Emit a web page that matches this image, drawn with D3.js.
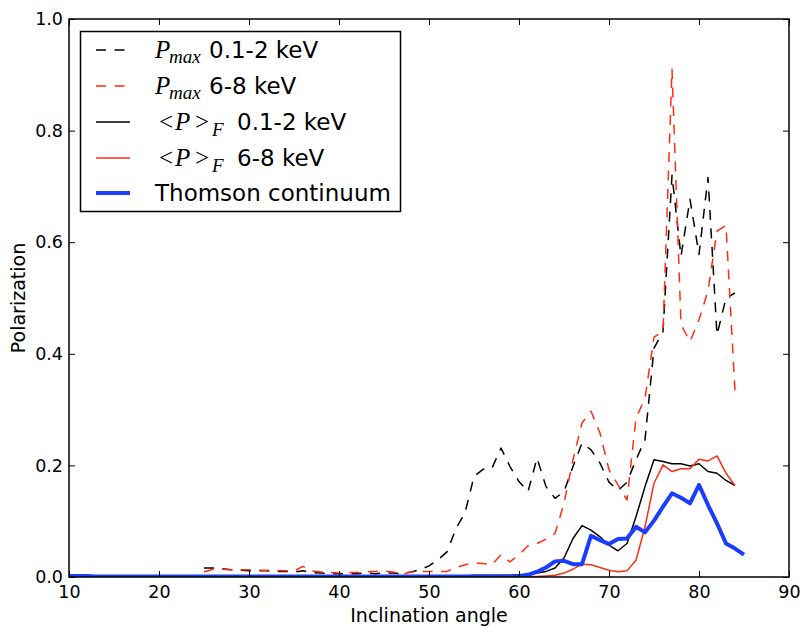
<!DOCTYPE html>
<html>
<head>
<meta charset="utf-8">
<script src="https://cdn.jsdelivr.net/npm/d3@7"></script>
<style>
  body { margin: 0; background: #fff; }
  svg { display: block; font-family: "DejaVu Sans", sans-serif; }
</style>
</head>
<body>
<svg width="805" height="627"></svg>
<script>
// inclination angles (degrees)
var anglesSolid = [10,11,12,13,14,15,16,17,18,19,20,21,22,23,24,25,26,27,28,29,30,31,32,33,34,
    35,36,37,38,39,40,41,42,43,44,45,46,47,48,49,50,51,52,53,54,55,56,57,58,59,60,61,62,63,64,
    65,66,67,68,69,70,71,72,73,74,75,76,77,78,79,80,81,82,83,84];
var anglesThomson = anglesSolid.concat([85]);
var anglesDashed = [25,26,27,28,29,30,31,32,33,34,35,36,37,38,39,40,41,42,43,44,45,46,47,48,49,
    50,51,52,53,54,55,56,57,58,59,60,61,62,63,64,65,66,67,68,69,70,71,72,73,74,75,76,77,78,79,
    80,81,82,83,84];

// P_max 0.1-2 keV (black dashed)
var pmaxSoft = [0.016,0.016,0.015,0.013,0.012,0.011,0.011,0.011,0.010,0.010,0.009,0.011,0.008,0.007,0.006,
    0.006,0.006,0.006,0.007,0.006,0.007,0.007,0.006,0.009,0.013,0.020,0.031,0.045,0.087,0.115,
    0.180,0.193,0.195,0.231,0.198,0.171,0.153,0.213,0.162,0.141,0.153,0.198,0.240,0.228,0.204,
    0.170,0.155,0.170,0.210,0.246,0.410,0.440,0.720,0.575,0.677,0.578,0.716,0.434,0.500,0.509];
// P_max 6-8 keV (red dashed)
var pmaxHard = [0.009,0.014,0.014,0.013,0.013,0.013,0.012,0.012,0.012,0.011,0.011,0.019,0.011,0.009,0.008,
    0.007,0.008,0.008,0.009,0.010,0.011,0.009,0.005,0.009,0.010,0.010,0.010,0.010,0.017,0.022,
    0.025,0.024,0.022,0.040,0.027,0.040,0.056,0.060,0.068,0.078,0.132,0.210,0.276,0.297,0.258,
    0.192,0.165,0.138,0.285,0.320,0.430,0.440,0.910,0.452,0.422,0.461,0.513,0.620,0.630,0.333];
// <P>_F 0.1-2 keV (black solid)
var pfSoft = [0.002,0.002,0.002,0.002,0.002,0.002,0.002,0.002,0.002,0.002,0.002,0.002,0.002,0.002,0.002,
    0.002,0.002,0.002,0.002,0.002,0.002,0.002,0.002,0.002,0.002,0.002,0.002,0.002,0.002,0.002,
    0.002,0.002,0.002,0.002,0.002,0.002,0.002,0.002,0.002,0.002,0.002,0.002,0.002,0.002,0.002,
    0.003,0.003,0.003,0.003,0.003,0.004,0.004,0.007,0.010,0.016,0.034,0.069,0.092,0.084,0.072,
    0.057,0.047,0.060,0.108,0.162,0.210,0.207,0.203,0.203,0.199,0.203,0.189,0.186,0.173,0.164];
// <P>_F 6-8 keV (red solid)
var pfHard = [0.001,0.001,0.001,0.001,0.001,0.001,0.001,0.001,0.001,0.001,0.001,0.001,0.001,0.001,0.001,
    0.001,0.001,0.001,0.001,0.001,0.001,0.001,0.001,0.001,0.001,0.001,0.001,0.001,0.001,0.001,
    0.001,0.001,0.001,0.001,0.001,0.001,0.001,0.001,0.001,0.001,0.001,0.001,0.001,0.001,0.001,
    0.001,0.001,0.001,0.001,0.001,0.001,0.001,0.001,0.002,0.003,0.007,0.014,0.023,0.022,0.017,
    0.012,0.0095,0.011,0.030,0.090,0.168,0.201,0.189,0.194,0.194,0.211,0.208,0.217,0.186,0.164];
// Thomson continuum (blue)
var thomson = [0.002,0.002,0.002,0.001,0.001,0.001,0.001,0.001,0.001,0.001,0.001,0.001,0.001,0.001,0.001,
    0.001,0.001,0.001,0.001,0.001,0.001,0.001,0.001,0.001,0.001,0.001,0.001,0.001,0.001,0.001,
    0.001,0.001,0.001,0.001,0.001,0.001,0.001,0.001,0.001,0.001,0.001,0.001,0.001,0.001,0.001,
    0.001,0.001,0.001,0.001,0.001,0.002,0.004,0.0095,0.017,0.028,0.029,0.023,0.023,0.074,0.066,
    0.059,0.068,0.069,0.090,0.080,0.101,0.126,0.150,0.142,0.132,0.165,0.129,0.096,0.060,0.051,0.040];

var xTicks = [10,20,30,40,50,60,70,80,90];
var yTicks = [0.0,0.2,0.4,0.6,0.8,1.0];

var red = "#ff2d12", blue = "#1a3dff";

var svg = d3.select("svg"),
    margin = {top: 19, right: 16, bottom: 50, left: 69},
    width = +svg.attr("width") - margin.left - margin.right,
    height = +svg.attr("height") - margin.top - margin.bottom;

var x = d3.scaleLinear().domain([10, 90]).range([0, width]),
    y = d3.scaleLinear().domain([0, 1]).range([height, 0]);

var g = svg.append("g")
    .attr("transform", "translate(" + margin.left + "," + margin.top + ")");

g.append("defs").append("clipPath").attr("id", "clip")
    .append("rect").attr("width", width).attr("height", height);

var series = [
    {xs: anglesDashed, ys: pmaxSoft, color: "#000", w: 1.5, dash: "10,8.5"},
    {xs: anglesDashed, ys: pmaxHard, color: red, w: 1.5, dash: "10,8.5"},
    {xs: anglesSolid, ys: pfSoft, color: "#000", w: 1.5, dash: null},
    {xs: anglesSolid, ys: pfHard, color: red, w: 1.5, dash: null},
    {xs: anglesThomson, ys: thomson, color: blue, w: 4, dash: null}
];

var line = d3.line()
    .x(function (d) { return x(d[0]); })
    .y(function (d) { return y(d[1]); });

var plot = g.append("g").attr("clip-path", "url(#clip)");
series.forEach(function (s) {
    plot.append("path")
        .datum(d3.zip(s.xs, s.ys))
        .attr("fill", "none")
        .attr("stroke", s.color)
        .attr("stroke-width", s.w)
        .attr("stroke-dasharray", s.dash)
        .attr("stroke-linejoin", "round")
        .attr("d", line);
});

// axes, ticks pointing inward on all four sides
function styleAxis(sel) {
    sel.selectAll("text").attr("font-size", "17.5px").attr("fill", "#000")
        .attr("font-family", "DejaVu Sans");
    sel.selectAll("line").attr("stroke", "#000").attr("stroke-width", 1);
    sel.select(".domain").remove();
}

g.append("g")
    .attr("transform", "translate(0," + height + ")")
    .call(d3.axisBottom(x).tickValues(xTicks).tickFormat(d3.format("d"))
        .tickSizeInner(-6).tickSizeOuter(0).tickPadding(8.5))
    .call(styleAxis);
g.append("g")
    .call(d3.axisTop(x).tickValues(xTicks).tickFormat("").tickSizeInner(-6).tickSizeOuter(0))
    .call(styleAxis);
g.append("g")
    .call(d3.axisLeft(y).tickValues(yTicks).tickFormat(d3.format(".1f"))
        .tickSizeInner(-6).tickSizeOuter(0).tickPadding(6))
    .call(styleAxis);
g.append("g")
    .attr("transform", "translate(" + width + ",0)")
    .call(d3.axisRight(y).tickValues(yTicks).tickFormat("").tickSizeInner(-6).tickSizeOuter(0))
    .call(styleAxis);

g.append("rect")
    .attr("width", width).attr("height", height)
    .attr("fill", "none").attr("stroke", "#000").attr("stroke-width", 1.5);

svg.append("text")
    .attr("x", margin.left + width / 2).attr("y", 621.5)
    .attr("text-anchor", "middle").attr("font-size", "19px")
    .text("Inclination angle");
svg.append("text")
    .attr("transform", "translate(25," + (margin.top + height / 2) + ") rotate(-90)")
    .attr("text-anchor", "middle").attr("font-size", "19px")
    .text("Polarization");

// legend
var legend = svg.append("g");
legend.append("rect")
    .attr("x", 80.5).attr("y", 31.5).attr("width", 320).attr("height", 180)
    .attr("fill", "#fff").attr("stroke", "#000").attr("stroke-width", 1.5);

var rowY = [50, 86, 122, 158, 193];
var mathFont = "'Liberation Serif', 'DejaVu Serif', serif";

series.forEach(function (s, i) {
    legend.append("line")
        .attr("x1", 96).attr("x2", 130).attr("y1", rowY[i]).attr("y2", rowY[i])
        .attr("stroke", s.color).attr("stroke-width", s.w)
        .attr("stroke-dasharray", s.dash);
});

function pmaxLabel(cy, rest) {
    var t = legend.append("text").attr("y", cy + 8).attr("font-size", "23px");
    t.append("tspan").attr("x", 155).attr("font-family", mathFont).attr("font-style", "italic")
        .attr("font-size", "25px").text("P");
    t.append("tspan").attr("x", 169).attr("dy", 5).attr("font-family", mathFont)
        .attr("font-style", "italic").attr("font-size", "19px").text("max");
    t.append("tspan").attr("x", 209).attr("dy", -5).text(rest);
}
function pfLabel(cy, rest) {
    var t = legend.append("text").attr("y", cy + 8).attr("font-size", "23px");
    t.append("tspan").attr("x", 159).attr("font-family", mathFont).attr("font-size", "25px")
        .text("<");
    t.append("tspan").attr("x", 175).attr("font-family", mathFont).attr("font-style", "italic")
        .attr("font-size", "25px").text("P");
    t.append("tspan").attr("x", 195).attr("font-family", mathFont).attr("font-size", "25px")
        .text(">");
    t.append("tspan").attr("x", 212).attr("dy", 6).attr("font-family", mathFont)
        .attr("font-style", "italic").attr("font-size", "19px").text("F");
    t.append("tspan").attr("x", 237).attr("dy", -6).text(rest);
}

pmaxLabel(rowY[0], "0.1-2 keV");
pmaxLabel(rowY[1], "6-8 keV");
pfLabel(rowY[2], "0.1-2 keV");
pfLabel(rowY[3], "6-8 keV");
legend.append("text").attr("x", 155).attr("y", rowY[4] + 8).attr("font-size", "23px")
    .text("Thomson continuum");
</script>
</body>
</html>
